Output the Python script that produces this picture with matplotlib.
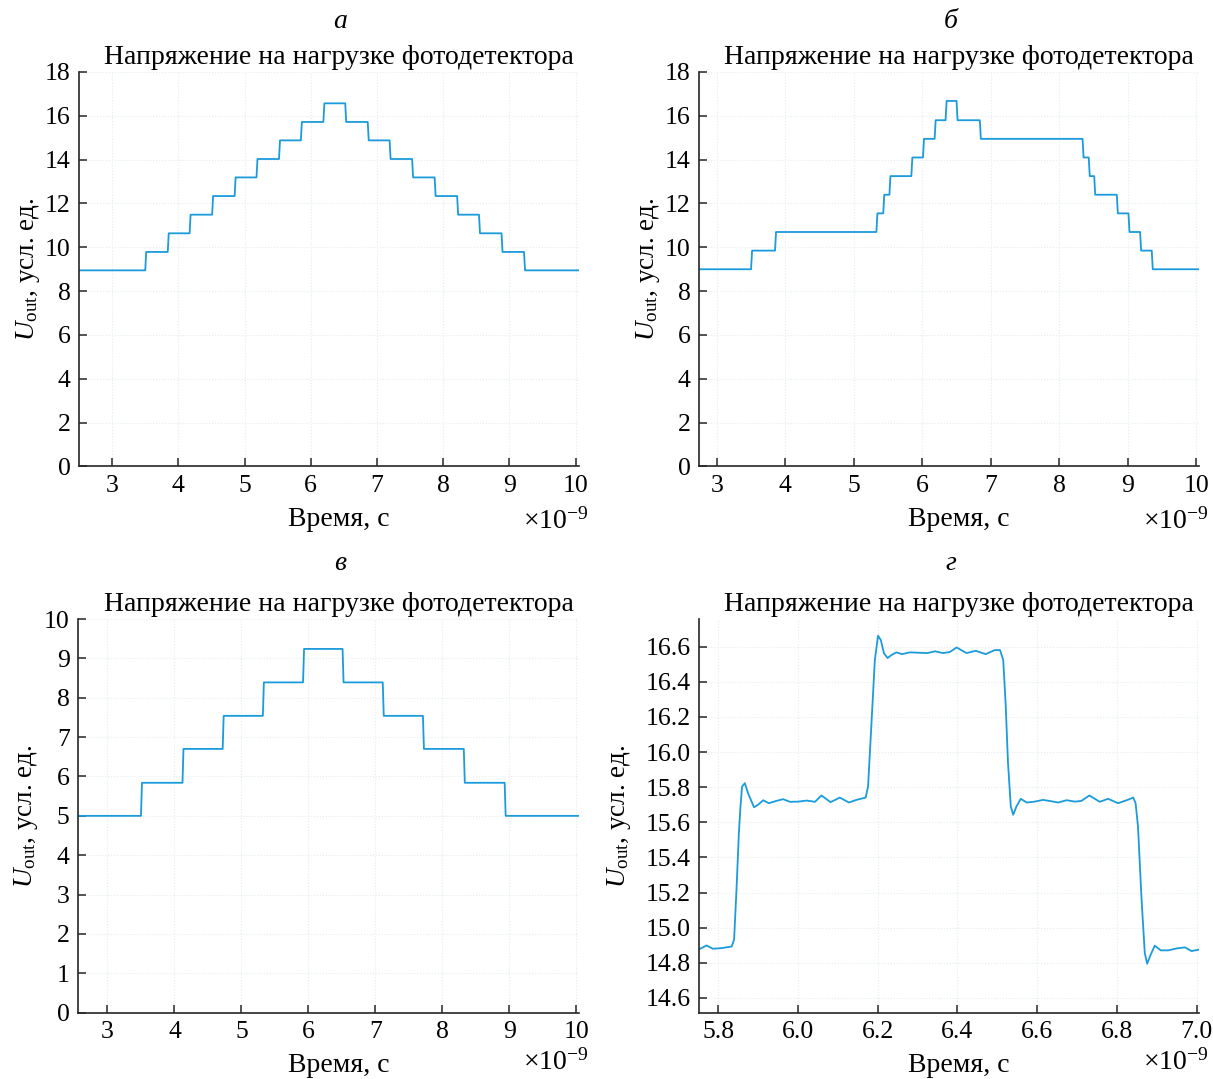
import matplotlib
matplotlib.use('Agg')
import numpy as np
import matplotlib.pyplot as plt
from matplotlib.ticker import FormatStrFormatter

plt.rcParams['font.family'] = ['Liberation Serif', 'DejaVu Serif']
plt.rcParams['mathtext.fontset'] = 'custom'
plt.rcParams['mathtext.rm'] = 'Liberation Serif'
plt.rcParams['mathtext.it'] = 'Liberation Serif:italic'

# --- data (time in ns, voltage in arb. units) ---
# panel a: symmetric staircase
a_edges = [3.50, 3.84, 4.17, 4.51, 4.85, 5.18, 5.52, 5.85, 6.19,
           6.52, 6.86, 7.19, 7.53, 7.87, 8.21, 8.54, 8.88, 9.22]
a_levels = [8.95, 9.79, 10.64, 11.49, 12.34, 13.19, 14.03, 14.88, 15.72, 16.57,
            15.72, 14.88, 14.03, 13.19, 12.34, 11.49, 10.64, 9.79, 8.95]
a_span = [2.50, 10.05]

# panel b: staircase with long plateaus
b_edges = [3.50, 3.85, 5.33, 5.43, 5.52, 5.84, 6.01, 6.18, 6.34,
           6.50, 6.84, 8.34, 8.43, 8.51, 8.84, 9.01, 9.18, 9.35]
b_levels = [9.00, 9.85, 10.70, 11.55, 12.40, 13.25, 14.10, 14.95, 15.80, 16.68,
            15.80, 14.95, 14.10, 13.25, 12.40, 11.55, 10.70, 9.85, 9.00]
b_span = [2.74, 10.04]

# panel c: lower staircase
c_edges = [3.50, 4.12, 4.72, 5.32, 5.92, 6.51, 7.11, 7.71, 8.32, 8.93]
c_levels = [5.00, 5.84, 6.70, 7.54, 8.39, 9.24, 8.39, 7.54, 6.70, 5.84, 5.00]
c_span = [2.56, 10.04]

# panel d: zoom on the top of panel a
d_time = [5.754, 5.771, 5.787, 5.809, 5.834, 5.840, 5.846, 5.852, 5.856, 5.860,
          5.867, 5.875, 5.890, 5.900, 5.913, 5.927, 5.946, 5.963, 5.980, 6.001,
          6.022, 6.043, 6.059, 6.082, 6.105, 6.128, 6.147, 6.170, 6.176, 6.185,
          6.193, 6.201, 6.208, 6.216, 6.225, 6.235, 6.247, 6.261, 6.281, 6.302,
          6.325, 6.344, 6.364, 6.381, 6.398, 6.423, 6.446, 6.471, 6.494, 6.507,
          6.515, 6.521, 6.527, 6.534, 6.540, 6.548, 6.559, 6.574, 6.594, 6.615,
          6.636, 6.653, 6.674, 6.695, 6.711, 6.731, 6.757, 6.778, 6.803, 6.827,
          6.841, 6.847, 6.853, 6.862, 6.870, 6.876, 6.883, 6.895, 6.910, 6.929,
          6.950, 6.971, 6.987, 7.006]
d_volt = [14.879, 14.899, 14.880, 14.884, 14.893, 14.932, 15.216, 15.539, 15.690, 15.804,
          15.823, 15.766, 15.686, 15.700, 15.726, 15.709, 15.722, 15.732, 15.717, 15.718,
          15.724, 15.717, 15.753, 15.715, 15.741, 15.713, 15.728, 15.741, 15.804, 16.183,
          16.524, 16.663, 16.638, 16.562, 16.536, 16.553, 16.568, 16.558, 16.568, 16.566,
          16.564, 16.574, 16.564, 16.570, 16.596, 16.564, 16.577, 16.558, 16.581, 16.581,
          16.524, 16.278, 15.937, 15.690, 15.643, 15.690, 15.734, 15.713, 15.718, 15.728,
          15.720, 15.713, 15.726, 15.718, 15.722, 15.753, 15.717, 15.734, 15.709, 15.728,
          15.741, 15.709, 15.576, 15.159, 14.856, 14.795, 14.837, 14.898, 14.871, 14.871,
          14.882, 14.888, 14.867, 14.875]

title = 'Напряжение на нагрузке фотодетектора'
xlab = 'Время, с'
ylab = r'$U_{\rm out}$, усл. ед.'
letters = ['а', 'б', 'в', 'г']

line_color = '#1b9bdc'
axis_color = '#262626'
fs_tick = 18.5
fs_text = 20


def staircase(edges, levels, span, rise=0.015):
    t = [span[0]]
    v = [levels[0]]
    for i, e in enumerate(edges):
        t += [e, e + rise]
        v += [levels[i], levels[i + 1]]
    t.append(span[1])
    v.append(levels[-1])
    return t, v


def style_axes(ax, mult_y=-0.14):
    for side in ['top', 'right']:
        ax.spines[side].set_visible(False)
    for side in ['left', 'bottom']:
        ax.spines[side].set_color(axis_color)
        ax.spines[side].set_linewidth(1.2)
    ax.tick_params(direction='in', length=6, width=1.1, color=axis_color,
                   labelsize=fs_tick, pad=6)
    ax.grid(True, color='#e3ecef', linestyle=':', linewidth=0.8)
    ax.set_axisbelow(True)
    ax.set_title(title, fontsize=fs_text, x=0.52, pad=6)
    ax.set_xlabel(xlab, fontsize=fs_text)
    ax.xaxis.set_label_coords(0.52, -0.103)
    ax.set_ylabel(ylab, fontsize=19.5)
    ax.text(1.02, mult_y, r'$\times10^{-9}$', transform=ax.transAxes,
            ha='right', va='center', fontsize=20)


fig = plt.figure(figsize=(12.13, 10.79), dpi=100)
W, H = 1213.0, 1079.0
boxes = [(79, 579, 72, 466.5), (699, 1199, 72, 466.5),
         (78, 579, 619, 1012.7), (699, 1199, 619, 1012.7)]
axs = []
for (l, r, t, b) in boxes:
    axs.append(fig.add_axes([l / W, 1 - b / H, (r - l) / W, (b - t) / H]))

# a
ax = axs[0]
t, v = staircase(a_edges, a_levels, a_span)
ax.plot(t, v, color=line_color, lw=1.3)
ax.set_xlim(a_span)
ax.set_ylim(0, 18)
ax.set_xticks(range(3, 11))
ax.set_yticks(range(0, 19, 2))
style_axes(ax)
ax.yaxis.set_label_coords(-0.075, 0.5)

# b
ax = axs[1]
t, v = staircase(b_edges, b_levels, b_span)
ax.plot(t, v, color=line_color, lw=1.3)
ax.set_xlim(b_span)
ax.set_ylim(0, 18)
ax.set_xticks(range(3, 11))
ax.set_yticks(range(0, 19, 2))
style_axes(ax)
ax.yaxis.set_label_coords(-0.075, 0.5)

# c
ax = axs[2]
t, v = staircase(c_edges, c_levels, c_span)
ax.plot(t, v, color=line_color, lw=1.3)
ax.set_xlim(c_span)
ax.set_ylim(0, 10)
ax.set_xticks(range(3, 11))
ax.set_yticks(range(0, 11))
style_axes(ax, mult_y=-0.127)
ax.yaxis.set_label_coords(-0.075, 0.5)

# d
ax = axs[3]
ax.plot(d_time, d_volt, color=line_color, lw=1.3, solid_joinstyle='round')
ax.set_xlim(5.752, 7.006)
ax.set_ylim(14.516, 16.758)
ax.set_xticks(np.arange(5.8, 7.01, 0.2))
ax.set_yticks(np.arange(14.6, 16.61, 0.2))
ax.xaxis.set_major_formatter(FormatStrFormatter('%.1f'))
ax.yaxis.set_major_formatter(FormatStrFormatter('%.1f'))
style_axes(ax, mult_y=-0.127)
ax.yaxis.set_label_coords(-0.132, 0.5)

# panel letters
for (x, y), s in zip([(340, 22), (951, 22), (340, 563), (951, 563)], letters):
    fig.text(x / W, 1 - y / H, s, ha='center', va='center', fontsize=fs_text,
             style='italic')

fig.savefig('out.png', dpi=100)
